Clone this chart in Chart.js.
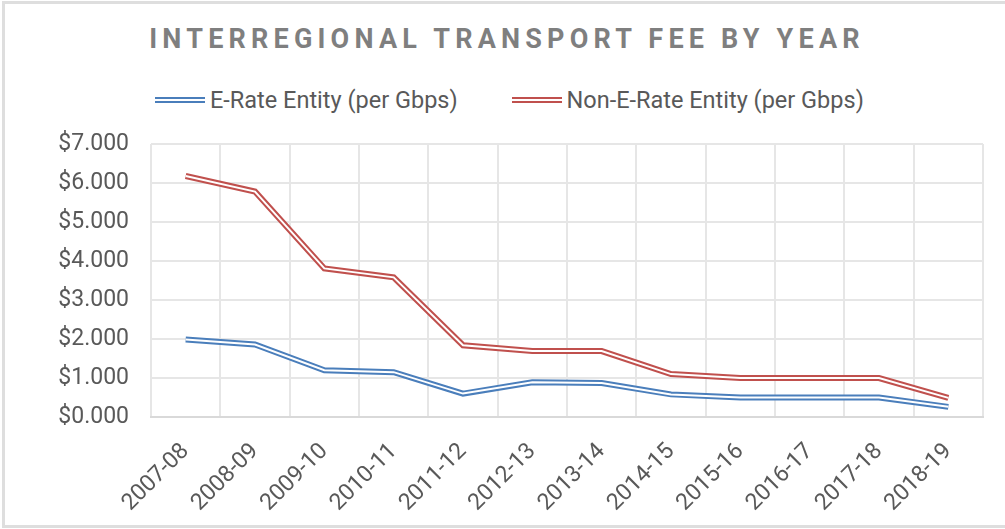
<!DOCTYPE html>
<html>
<head>
<meta charset="utf-8">
<script src="https://cdn.jsdelivr.net/npm/chart.js@4"></script>
<style>
  html, body { margin: 0; padding: 0; background: #fff; }
  body { width: 1005px; height: 529px; position: relative; overflow: hidden; font-family: Roboto, sans-serif; }
  .frame { position: absolute; left: 2px; top: 1px; width: 1010px; height: 521px; border: 3px solid #dedede; }
  .title { position: absolute; left: 0; width: 1014px; top: 23px; text-align: center; font-size: 27px; font-weight: bold; letter-spacing: 5.2px; color: #7f7f7f; }
  .legend { position: absolute; top: 84px; left: 155px; font-size: 23.5px; color: #595959; white-space: nowrap; }
  .legend span { display: inline-block; vertical-align: middle; }
  .mark { width: 50px; height: 2px; border-top: 2px solid; border-bottom: 2px solid; margin-right: 5px; }
  #wrap { position: absolute; left: 0; top: 0; width: 1005px; height: 529px; }
</style>
</head>
<body>
<div class="frame"></div>
<div class="title">INTERREGIONAL TRANSPORT FEE BY YEAR</div>
<div class="legend">
  <span class="mark" style="border-color:#4a7ebb"></span><span>E-Rate Entity (per Gbps)</span>
  <span class="mark" style="border-color:#c0504d;margin-left:48px"></span><span>Non-E-Rate Entity (per Gbps)</span>
</div>
<div id="wrap"><canvas id="chart"></canvas></div>
<script>
const years = ["2007-08", "2008-09", "2009-10", "2010-11", "2011-12", "2012-13",
               "2013-14", "2014-15", "2015-16", "2016-17", "2017-18", "2018-19"];
const eRate = [1.99, 1.86, 1.2, 1.15, 0.6, 0.89, 0.87, 0.58, 0.5, 0.5, 0.5, 0.26];
const nonERate = [6.18, 5.78, 3.81, 3.58, 1.84, 1.69, 1.69, 1.1, 1.0, 1.0, 1.0, 0.49];
const yTicks = [0, 1, 2, 3, 4, 5, 6, 7];

const blue = "#4a7ebb";
const red = "#c0504d";

// double line look: thick coloured line with a thin white line on top
function doubleLine(label, data, color) {
    return [
        { label: label, data: data, borderColor: color, borderWidth: 6, pointRadius: 0, order: 2 },
        { label: label + " gap", data: data, borderColor: "#ffffff", borderWidth: 2, pointRadius: 0, order: 1 }
    ];
}

let ctx = document.getElementById("chart").getContext("2d");
new Chart(ctx, {
    type: "line",
    data: {
        labels: years,
        datasets: [...doubleLine("E-Rate Entity (per Gbps)", eRate, blue),
                   ...doubleLine("Non-E-Rate Entity (per Gbps)", nonERate, red)]
    },
    options: {
        responsive: true,
        maintainAspectRatio: false,
        animation: false,
        layout: { padding: { top: 144, right: 22, left: 0, bottom: 0 } },
        plugins: {
            legend: { display: false },
            tooltip: { enabled: false }
        },
        scales: {
            x: {
                offset: true,
                grid: { offset: true, color: "#e6e6e6", lineWidth: 2, drawTicks: false },
                border: { color: "#d9d9d9", width: 2 },
                ticks: { color: "#595959", font: { family: "Roboto", size: 23 }, minRotation: 45, maxRotation: 45, padding: 21, autoSkip: false },
                afterFit: s => { s.height = 112; }
            },
            y: {
                min: 0, max: 7,
                afterBuildTicks: s => { s.ticks = yTicks.map(v => ({ value: v })); },
                grid: { color: "#e6e6e6", lineWidth: 2, drawTicks: false },
                border: { display: false },
                ticks: { color: "#595959", font: { family: "Roboto", size: 23 }, padding: 22, callback: v => "$" + v.toFixed(3) },
                afterFit: s => { s.width = 151; }
            }
        }
    }
});
</script>
</body>
</html>
